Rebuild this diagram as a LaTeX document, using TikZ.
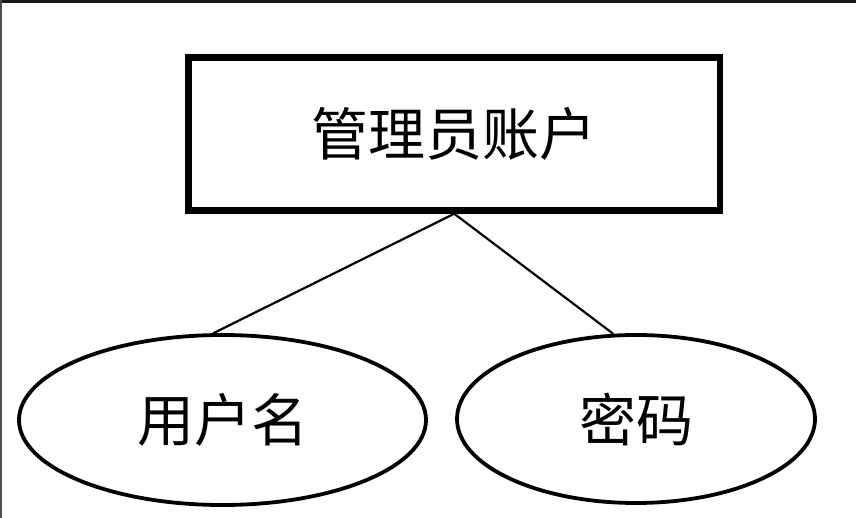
\documentclass[tikz,border=0pt]{standalone}
\usepackage{fontspec}
\newfontfamily\cjk{Noto Sans CJK SC}
\usetikzlibrary{shapes.geometric}
\begin{document}
\begin{tikzpicture}[x=1pt,y=-1pt,
  entity/.style={draw=black,line width=6.5pt,rectangle,inner sep=0pt,
    minimum width=531.5pt,minimum height=153pt,font=\cjk\fontsize{57}{62}\selectfont},
  attr/.style={draw=black,line width=3.8pt,ellipse,inner sep=0pt,
    font=\cjk\fontsize{57}{62}\selectfont},
  link/.style={draw=black,line width=2.2pt}]
\useasboundingbox (0,0) rectangle (856,518);
\fill[white] (0,0) rectangle (856,518);
% screenshot frame remnants
\fill[black!90] (0,0) rectangle (856,3.5);
\fill[black!70] (0,0) rectangle (1.5,518);
\node[entity] (acc) at (454.25,134) {管理员账户};
\node[attr,minimum width=407pt,minimum height=170pt] (user) at (222.5,420) {用户名};
\node[attr,minimum width=358pt,minimum height=168pt] (pwd) at (636,419) {密码};
\draw[link] (acc.south) -- (user.96.6);
\draw[link] (acc.south) -- (pwd.105);
\end{tikzpicture}
\end{document}
